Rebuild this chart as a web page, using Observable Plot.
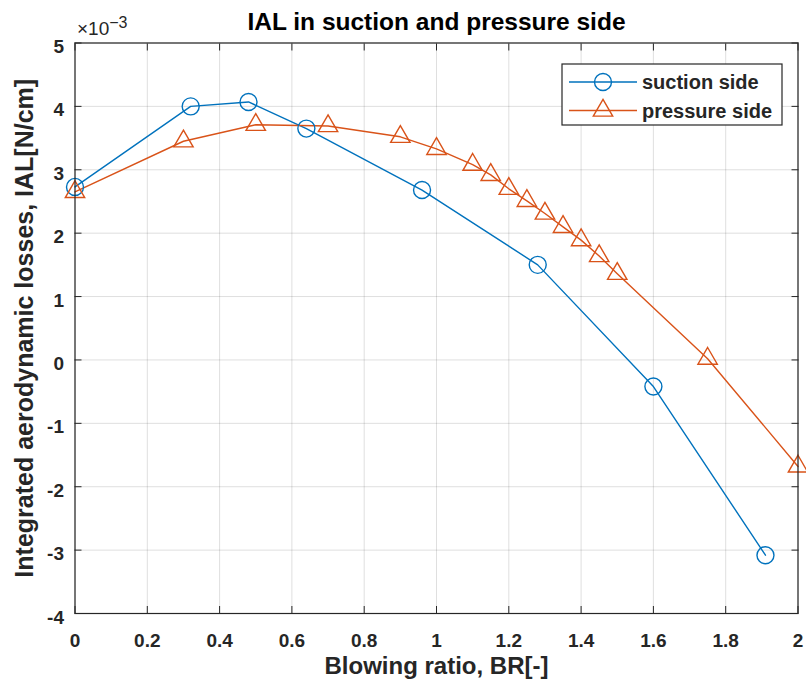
<!DOCTYPE html>
<html>
<head>
<meta charset="utf-8">
<script src="https://cdn.jsdelivr.net/npm/d3@7"></script>
<script src="https://cdn.jsdelivr.net/npm/@observablehq/plot@0.6"></script>
<style>
  body { margin: 0; background: #fff; }
  #chart svg { display: block; }
</style>
</head>
<body>
<div id="chart"></div>
<script>
// ---- data (IAL values in units of 1e-3 N/cm) ----
const suctionBR  = [0, 0.32, 0.48, 0.64, 0.96, 1.28, 1.60, 1.91];
const suctionIAL = [2.73, 4.00, 4.07, 3.65, 2.68, 1.50, -0.42, -3.08];
const pressureBR  = [0, 0.30, 0.50, 0.70, 0.90, 1.00, 1.10, 1.15, 1.20, 1.25, 1.30, 1.35, 1.40, 1.45, 1.50, 1.75, 2.00];
const pressureIAL = [2.65, 3.45, 3.71, 3.69, 3.52, 3.33, 3.08, 2.92, 2.70, 2.51, 2.31, 2.10, 1.89, 1.64, 1.36, 0.02, -1.68];
const xTicks = [0, 0.2, 0.4, 0.6, 0.8, 1, 1.2, 1.4, 1.6, 1.8, 2];
const yTicks = [-4, -3, -2, -1, 0, 1, 2, 3, 4, 5];
const seriesNames = ["suction side", "pressure side"];
const titleText = "IAL in suction and pressure side";
const xLabelText = "Blowing ratio, BR[-]";
const yLabelText = "Integrated aerodynamic losses, IAL[N/cm]";
const exponentText = ["\u00d710", "\u22123"];

const suction = suctionBR.map((x, i) => ({x, y: suctionIAL[i]}));
const pressure = pressureBR.map((x, i) => ({x, y: pressureIAL[i]}));

const blue = "#0072BD", orange = "#D95319", ink = "#262626";
const font = "'Liberation Sans', Arial, Helvetica, sans-serif";
const mL = 74.5, mR = 8.5, mT = 42.5, mB = 75;
const tickFont = 19;

const svg = Plot.plot({
  width: 806, height: 688,
  marginLeft: mL, marginRight: mR, marginTop: mT, marginBottom: mB,
  style: {fontFamily: font, color: ink, background: "#fff", overflow: "visible"},
  x: {domain: [0, 2]},
  y: {domain: [-4, 5]},
  marks: [
    Plot.gridX(xTicks, {stroke: ink, strokeOpacity: 0.15}),
    Plot.gridY(yTicks, {stroke: ink, strokeOpacity: 0.15}),
    Plot.line(suction, {x: "x", y: "y", stroke: blue, strokeWidth: 1.4}),
    Plot.line(pressure, {x: "x", y: "y", stroke: orange, strokeWidth: 1.4}),
    Plot.dot(suction, {x: "x", y: "y", r: 8.5, stroke: blue, fill: "none", strokeWidth: 1.4}),
    Plot.dot(pressure, {x: "x", y: "y", r: 7.2, symbol: "triangle", stroke: orange, fill: "none", strokeWidth: 1.4}),
    Plot.frame({stroke: ink, strokeWidth: 1.2}),
    // inward tick marks on all four sides
    Plot.axisX(xTicks, {anchor: "bottom", tickSize: -7, tickFormat: () => "", label: null, stroke: ink}),
    Plot.axisX(xTicks, {anchor: "top", tickSize: -7, tickFormat: () => "", label: null, stroke: ink}),
    Plot.axisY(yTicks, {anchor: "left", tickSize: -7, tickFormat: () => "", label: null, stroke: ink}),
    Plot.axisY(yTicks, {anchor: "right", tickSize: -7, tickFormat: () => "", label: null, stroke: ink}),
    // tick labels
    Plot.text(xTicks, {x: d => d, frameAnchor: "bottom", lineAnchor: "middle", dy: 27.5, text: d => String(d), fontSize: tickFont, fontWeight: "bold", fill: ink}),
    Plot.text(yTicks, {y: d => d, frameAnchor: "left", textAnchor: "end", lineAnchor: "middle", dx: -11, dy: 4, text: d => String(d), fontSize: tickFont, fontWeight: "bold", fill: ink}),
    // titles
    Plot.text([titleText], {frameAnchor: "top", lineAnchor: "middle", dy: -21, fontSize: 24.5, fontWeight: "bold", fill: "#000"}),
    Plot.text([xLabelText], {frameAnchor: "bottom", lineAnchor: "middle", dy: 53, fontSize: 24, fontWeight: "bold", fill: ink}),
    Plot.text([yLabelText], {frameAnchor: "left", lineAnchor: "middle", textAnchor: "middle", dx: -50.5, rotate: -90, fontSize: 25, fontWeight: "bold", fill: ink})
  ]
});

const root = d3.select(svg);

// exponent label
const exp = root.append("text")
  .attr("x", 77).attr("y", 35).attr("text-anchor", "start")
  .attr("font-family", font).attr("font-size", 19).attr("fill", ink);
exp.append("tspan").text(exponentText[0]);
exp.append("tspan").attr("dy", -7).attr("font-size", 16).text(exponentText[1]);

// legend
const lg = root.append("g").attr("font-family", font).attr("text-anchor", "start");
lg.append("rect").attr("x", 562).attr("y", 64).attr("width", 220).attr("height", 61)
  .attr("fill", "#fff").attr("stroke", ink).attr("stroke-width", 1.2);
const rows = [
  {name: seriesNames[0], color: blue, y: 82, sym: d3.symbolCircle, r: 8.5},
  {name: seriesNames[1], color: orange, y: 110.5, sym: d3.symbolTriangle, r: 7.2}
];
rows.forEach(r => {
  lg.append("line").attr("x1", 569).attr("x2", 637).attr("y1", r.y).attr("y2", r.y)
    .attr("stroke", r.color).attr("stroke-width", 1.4);
  lg.append("path").attr("d", d3.symbol(r.sym, r.r * r.r * Math.PI)())
    .attr("transform", `translate(603,${r.y})`).attr("fill", "none")
    .attr("stroke", r.color).attr("stroke-width", 1.4);
  lg.append("text").attr("x", 642).attr("y", r.y).attr("dy", "0.35em")
    .attr("font-size", 20).attr("font-weight", "bold").attr("fill", ink).text(r.name);
});

document.getElementById("chart").appendChild(svg);
</script>
</body>
</html>
